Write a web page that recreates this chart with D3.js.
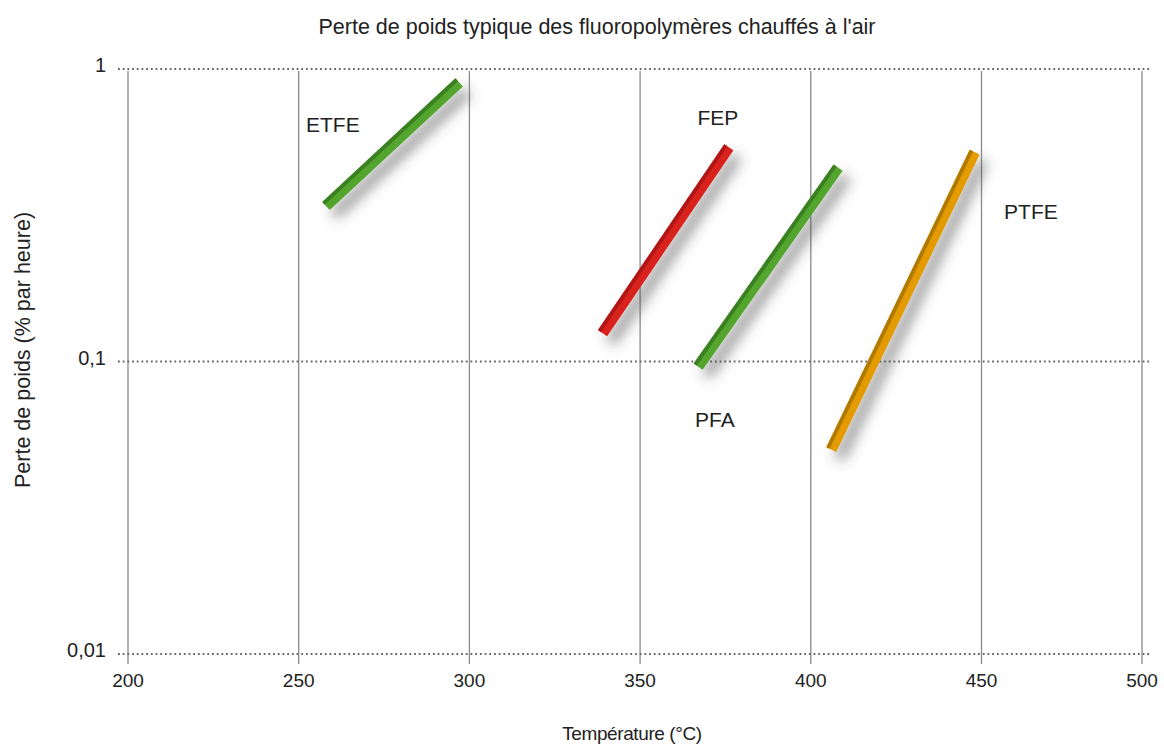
<!DOCTYPE html>
<html>
<head>
<meta charset="utf-8">
<script src="https://cdn.jsdelivr.net/npm/d3@7.9.0/dist/d3.min.js"></script>
<style>
  body { margin: 0; background: #fff; }
  svg text { font-family: "Liberation Sans", Arial, sans-serif; fill: #222; }
</style>
</head>
<body>
<svg id="chart" width="1164" height="745"></svg>
<script>
// data
const xTicks = [200, 250, 300, 350, 400, 450, 500];
const yTicks = [1, 0.1, 0.01];
const yTickLabels = ['1', '0,1', '0,01'];

const polymers = ['ETFE', 'FEP', 'PFA', 'PTFE'];
const startTemp = [258, 339, 367, 406];
const startLoss = [0.34, 0.125, 0.096, 0.05];
const endTemp = [297, 376, 408, 448];
const endLoss = [0.9, 0.54, 0.46, 0.52];
const mainColor = ['#53a52f', '#da241f', '#53a52f', '#e39b02'];
const darkColor = ['#3b8020', '#b01712', '#3b8020', '#b07a00'];
// label anchor in data units
const labelTemp = [260, 372.8, 371.9, 465.4];
const labelLoss = [0.61, 0.643, 0.0597, 0.307];

const svg = d3.select('#chart');

const x = d3.scaleLinear().domain([200, 450, 500]).range([128, 981.5, 1142]);
const y = d3.scaleLog().domain([0.01, 1]).range([654, 69]);

const narrow = '"Liberation Sans Narrow", "Liberation Sans", Arial, sans-serif';

const defs = svg.append('defs');
const f = defs.append('filter').attr('id', 'shadow')
  .attr('x', '-50%').attr('y', '-50%').attr('width', '200%').attr('height', '200%');
f.append('feDropShadow').attr('dx', 8).attr('dy', 9).attr('stdDeviation', 6.5)
  .attr('flood-color', '#444').attr('flood-opacity', 0.55);

// vertical grid
svg.append('g').selectAll('line').data(xTicks).join('line')
  .attr('x1', d => x(d)).attr('x2', d => x(d))
  .attr('y1', 71).attr('y2', 664)
  .attr('stroke', '#8a8a8a').attr('stroke-width', 1.3);

// horizontal dotted grid
svg.append('g').selectAll('line').data(yTicks).join('line')
  .attr('x1', 118).attr('x2', 1150)
  .attr('y1', d => y(d)).attr('y2', d => y(d))
  .attr('stroke', '#666').attr('stroke-width', 1.8)
  .attr('stroke-dasharray', '1.8,2.9');

// tick labels
svg.append('g').selectAll('text').data(yTicks).join('text')
  .attr('x', 106).attr('y', d => y(d) + 3)
  .attr('text-anchor', 'end').attr('font-size', 20)
  .text((d, i) => yTickLabels[i]);

svg.append('g').selectAll('text').data(xTicks).join('text')
  .attr('x', d => x(d)).attr('y', 687)
  .attr('text-anchor', 'middle').attr('font-size', 19)
  .text(d => d);

// sticks
const sticks = svg.append('g');
polymers.forEach((p, i) => {
  const x1 = x(startTemp[i]), y1 = y(startLoss[i]);
  const x2 = x(endTemp[i]), y2 = y(endLoss[i]);
  const len = Math.hypot(x2 - x1, y2 - y1);
  const nx = (y2 - y1) / len, ny = -(x2 - x1) / len;
  const g = sticks.append('g').attr('filter', 'url(#shadow)');
  g.append('line')
    .attr('x1', x1).attr('y1', y1).attr('x2', x2).attr('y2', y2)
    .attr('stroke', mainColor[i]).attr('stroke-width', 11);
  g.append('line')
    .attr('x1', x1 + nx * 3.6).attr('y1', y1 + ny * 3.6)
    .attr('x2', x2 + nx * 3.6).attr('y2', y2 + ny * 3.6)
    .attr('stroke', darkColor[i]).attr('stroke-width', 3.8);
});

// polymer labels
svg.append('g').selectAll('text').data(polymers).join('text')
  .attr('x', (d, i) => x(labelTemp[i])).attr('y', (d, i) => y(labelLoss[i]))
  .attr('text-anchor', 'middle').attr('font-size', 21)
  .text(d => d);

// titles
svg.append('text').attr('x', 597).attr('y', 34)
  .attr('text-anchor', 'middle').attr('font-size', 21.5)
  .style('font-family', narrow)
  .text("Perte de poids typique des fluoropolymères chauffés à l'air");

svg.append('text').attr('x', 632).attr('y', 740)
  .attr('text-anchor', 'middle').attr('font-size', 19)
  .style('font-family', narrow)
  .attr('letter-spacing', -0.4)
  .text('Température (°C)');

svg.append('text')
  .attr('transform', 'translate(30,350) rotate(-90)')
  .attr('text-anchor', 'middle').attr('font-size', 21.5)
  .style('font-family', narrow)
  .text('Perte de poids (% par heure)');
</script>
</body>
</html>
